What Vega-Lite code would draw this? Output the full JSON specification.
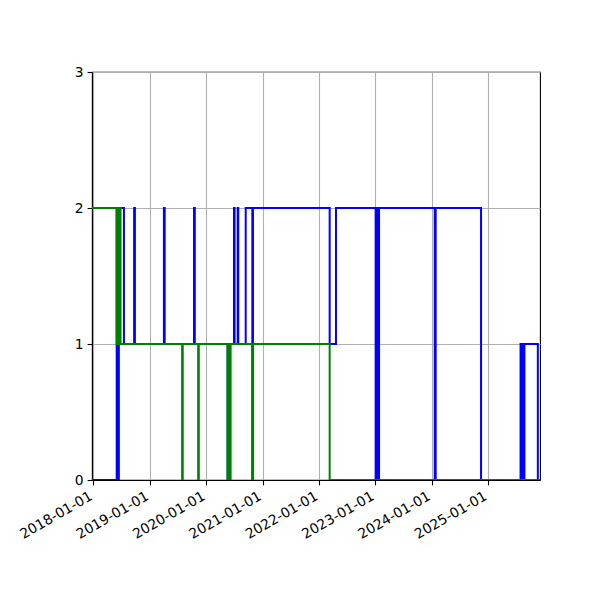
{
  "$schema": "https://vega.github.io/schema/vega-lite/v6.json",
  "width": 448,
  "height": 408,
  "autosize": {"type": "none"},
  "padding": {"left": 92, "top": 72, "right": 60, "bottom": 120},
  "background": "white",
  "data": {
    "values": [
      {"date": "2017-12-23", "value": 0, "series": "blue"},
      {"date": "2018-06-01", "value": 2, "series": "blue"},
      {"date": "2018-06-08", "value": 0, "series": "blue"},
      {"date": "2018-06-15", "value": 2, "series": "blue"},
      {"date": "2018-07-18", "value": 1, "series": "blue"},
      {"date": "2018-09-22", "value": 2, "series": "blue"},
      {"date": "2018-09-27", "value": 1, "series": "blue"},
      {"date": "2019-04-03", "value": 2, "series": "blue"},
      {"date": "2019-04-08", "value": 1, "series": "blue"},
      {"date": "2019-10-15", "value": 2, "series": "blue"},
      {"date": "2019-10-20", "value": 1, "series": "blue"},
      {"date": "2020-05-20", "value": 0, "series": "blue"},
      {"date": "2020-05-26", "value": 1, "series": "blue"},
      {"date": "2020-06-01", "value": 0, "series": "blue"},
      {"date": "2020-06-06", "value": 1, "series": "blue"},
      {"date": "2020-06-30", "value": 2, "series": "blue"},
      {"date": "2020-07-04", "value": 1, "series": "blue"},
      {"date": "2020-07-24", "value": 2, "series": "blue"},
      {"date": "2020-07-28", "value": 1, "series": "blue"},
      {"date": "2020-09-14", "value": 2, "series": "blue"},
      {"date": "2020-10-27", "value": 0, "series": "blue"},
      {"date": "2020-10-31", "value": 2, "series": "blue"},
      {"date": "2022-03-12", "value": 1, "series": "blue"},
      {"date": "2022-04-22", "value": 2, "series": "blue"},
      {"date": "2023-01-04", "value": 0, "series": "blue"},
      {"date": "2023-01-09", "value": 2, "series": "blue"},
      {"date": "2023-01-20", "value": 0, "series": "blue"},
      {"date": "2023-01-26", "value": 2, "series": "blue"},
      {"date": "2024-01-22", "value": 0, "series": "blue"},
      {"date": "2024-01-28", "value": 2, "series": "blue"},
      {"date": "2024-11-17", "value": 0, "series": "blue"},
      {"date": "2025-07-31", "value": 1, "series": "blue"},
      {"date": "2025-08-06", "value": 0, "series": "blue"},
      {"date": "2025-08-12", "value": 1, "series": "blue"},
      {"date": "2025-08-19", "value": 0, "series": "blue"},
      {"date": "2025-08-25", "value": 1, "series": "blue"},
      {"date": "2025-11-20", "value": 0, "series": "blue"},
      {"date": "2025-12-04", "value": 0, "series": "blue"},
      {"date": "2017-12-23", "value": 2, "series": "green"},
      {"date": "2018-06-01", "value": 1, "series": "green"},
      {"date": "2018-06-07", "value": 2, "series": "green"},
      {"date": "2018-06-13", "value": 1, "series": "green"},
      {"date": "2018-06-19", "value": 2, "series": "green"},
      {"date": "2018-06-26", "value": 1, "series": "green"},
      {"date": "2019-07-30", "value": 0, "series": "green"},
      {"date": "2019-08-03", "value": 1, "series": "green"},
      {"date": "2019-11-11", "value": 0, "series": "green"},
      {"date": "2019-11-15", "value": 1, "series": "green"},
      {"date": "2020-05-19", "value": 0, "series": "green"},
      {"date": "2020-05-25", "value": 1, "series": "green"},
      {"date": "2020-06-01", "value": 0, "series": "green"},
      {"date": "2020-06-07", "value": 1, "series": "green"},
      {"date": "2020-10-28", "value": 0, "series": "green"},
      {"date": "2020-11-01", "value": 1, "series": "green"},
      {"date": "2022-03-12", "value": 0, "series": "green"},
      {"date": "2025-12-04", "value": 0, "series": "green"}
    ]
  },
  "encoding": {
    "x": {
      "field": "date",
      "type": "temporal",
      "scale": {
        "type": "utc",
        "domain": [
          {"year": 2017, "month": 12, "date": 23, "utc": true},
          {"year": 2025, "month": 12, "date": 4, "utc": true}
        ]
      },
      "axis": {
        "title": null,
        "format": "%Y-%m-%d",
        "labelAngle": -30,
        "labelAlign": "right",
        "labelBaseline": "top",
        "labelOffset": -6,
        "values": [
          {"year": 2018, "month": 1, "date": 1, "utc": true},
          {"year": 2019, "month": 1, "date": 1, "utc": true},
          {"year": 2020, "month": 1, "date": 1, "utc": true},
          {"year": 2021, "month": 1, "date": 1, "utc": true},
          {"year": 2022, "month": 1, "date": 1, "utc": true},
          {"year": 2023, "month": 1, "date": 1, "utc": true},
          {"year": 2024, "month": 1, "date": 1, "utc": true},
          {"year": 2025, "month": 1, "date": 1, "utc": true}
        ]
      }
    },
    "y": {
      "field": "value",
      "type": "quantitative",
      "scale": {"domain": [0, 3], "nice": false, "zero": true},
      "axis": {"title": null, "values": [0, 1, 2, 3], "format": "d"}
    }
  },
  "layer": [
    {
      "transform": [{"filter": "datum.series === 'blue'"}],
      "mark": {"type": "line", "interpolate": "step-after", "color": "#0000ff", "strokeWidth": 2, "clip": true}
    },
    {
      "transform": [{"filter": "datum.series === 'green'"}],
      "mark": {"type": "line", "interpolate": "step-after", "color": "#008000", "strokeWidth": 2, "clip": true}
    }
  ],
  "config": {
    "font": "DejaVu Sans",
    "view": {"stroke": "#000000", "strokeWidth": 1.1},
    "axis": {
      "domainColor": "#000000",
      "domainWidth": 1.1,
      "tickColor": "#000000",
      "tickWidth": 1.1,
      "tickSize": 4.9,
      "labelPadding": 4,
      "labelFont": "DejaVu Sans",
      "labelFontSize": 13.9,
      "labelColor": "#000000",
      "labelFlush": false,
      "labelOverlap": false,
      "grid": true,
      "gridColor": "#b0b0b0",
      "gridWidth": 1.1
    }
  }
}
